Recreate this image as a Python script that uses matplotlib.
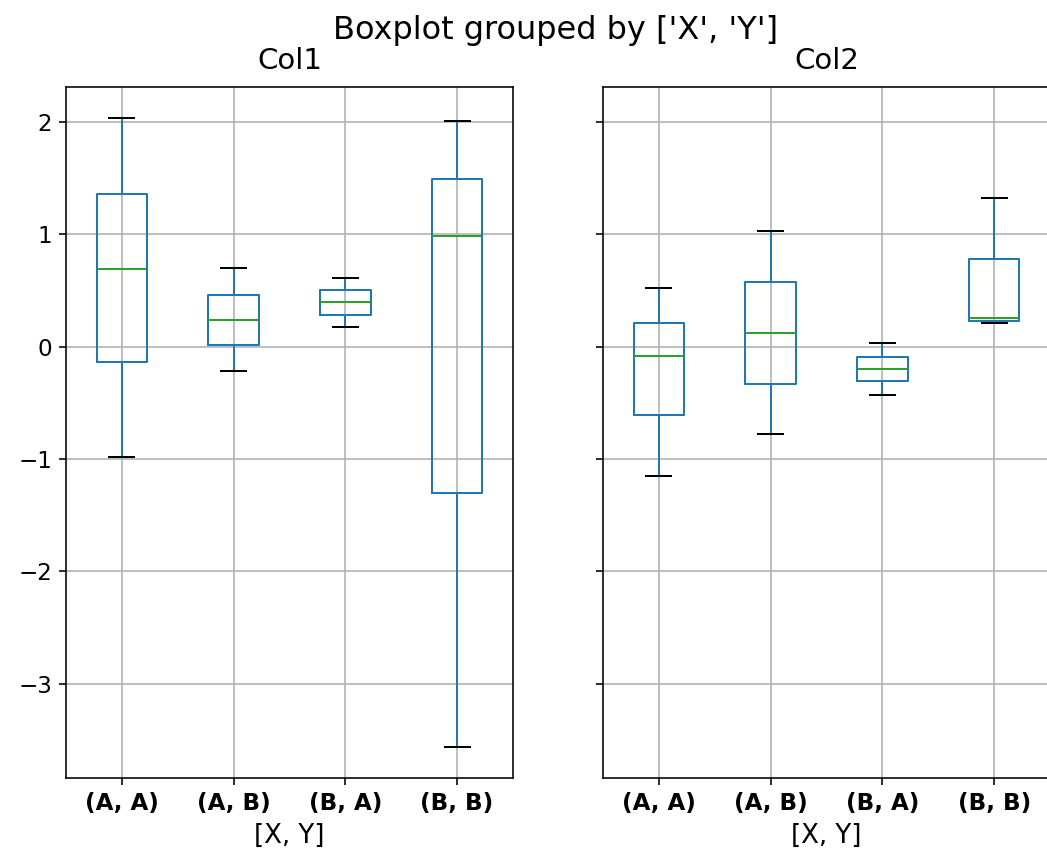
import matplotlib
matplotlib.use("Agg")
import matplotlib.pyplot as plt

groups = ["(A, A)", "(A, B)", "(B, A)", "(B, B)"]

# five-number summaries: low whisker, Q1, median, Q3, high whisker
col1_low = [-0.98, -0.22, 0.17, -3.56]
col1_q1 = [-0.14, 0.01, 0.28, -1.30]
col1_med = [0.69, 0.24, 0.40, 0.98]
col1_q3 = [1.36, 0.46, 0.50, 1.49]
col1_high = [2.03, 0.70, 0.61, 2.01]

col2_low = [-1.15, -0.78, -0.43, 0.21]
col2_q1 = [-0.61, -0.33, -0.31, 0.23]
col2_med = [-0.08, 0.12, -0.20, 0.25]
col2_q3 = [0.21, 0.57, -0.09, 0.78]
col2_high = [0.52, 1.03, 0.03, 1.32]


def stats(low, q1, med, q3, high):
    out = []
    for i in range(len(groups)):
        out.append({"whislo": low[i], "q1": q1[i], "med": med[i],
                    "q3": q3[i], "whishi": high[i], "fliers": [],
                    "label": groups[i]})
    return out


fig = plt.figure(figsize=(1047 / 144, 865 / 144), dpi=144)
ax1 = fig.add_axes([66 / 1047, 87 / 865, 447 / 1047, 691 / 865])
ax2 = fig.add_axes([603 / 1047, 87 / 865, 447 / 1047, 691 / 865], sharey=ax1)

props = dict(
    boxprops=dict(color="#1f77b4"),
    whiskerprops=dict(color="#1f77b4"),
    medianprops=dict(color="#2ca02c"),
    capprops=dict(color="k"),
)

ax1.bxp(stats(col1_low, col1_q1, col1_med, col1_q3, col1_high), **props)
ax2.bxp(stats(col2_low, col2_q1, col2_med, col2_q3, col2_high), **props)

for ax, name in [(ax1, "Col1"), (ax2, "Col2")]:
    ax.set_title(name, fontsize=14.6, pad=9)
    ax.set_xlabel("[X, Y]", fontsize=13)
    ax.grid(True)
    ax.set_xticks(range(1, 5))
    ax.set_xticklabels(groups, fontweight="bold", fontsize=11.5)
    ax.tick_params(axis="y", labelsize=11.5)
ax2.tick_params(labelleft=False)

# the original figure was wider and got cropped, so the title sits right of centre
fig.suptitle("Boxplot grouped by ['X', 'Y']", fontsize=16, x=556 / 1047, y=0.983)
fig.savefig("out.png", dpi=144)
